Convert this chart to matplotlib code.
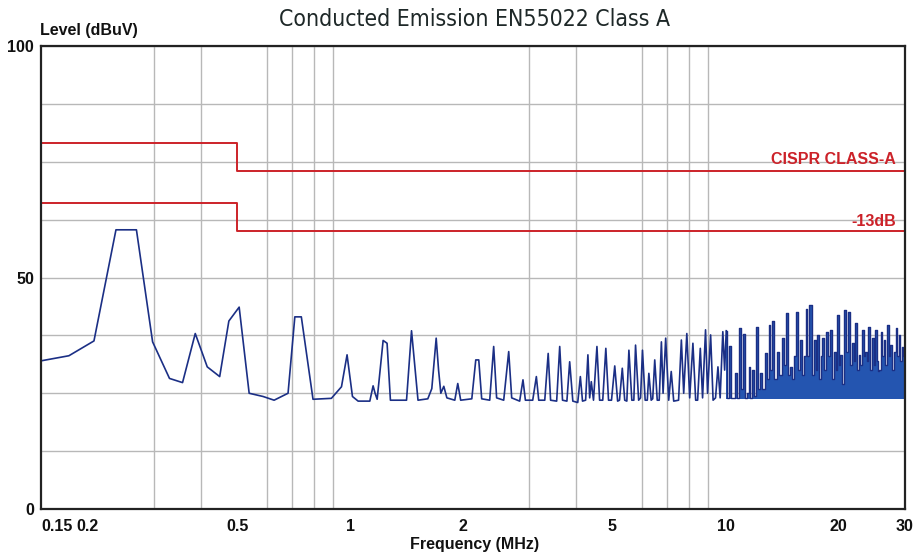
import numpy as np
import matplotlib
matplotlib.use('Agg')
import matplotlib.pyplot as plt
from matplotlib.ticker import FixedLocator, NullFormatter

# measured trace, 0.15 - 1.5 MHz
freq_low = [0.15, 0.178, 0.2076, 0.2376, 0.2694, 0.2975, 0.330, 0.3575, 0.3865, 0.416,
            0.449, 0.475, 0.506, 0.538, 0.586, 0.627, 0.683, 0.712, 0.741, 0.796,
            0.891, 0.948, 0.981, 1.014, 1.05, 1.128, 1.151, 1.165, 1.18, 1.224,
            1.254, 1.28, 1.413, 1.457, 1.516]
level_low = [32.0, 33.1, 36.3, 60.3, 60.3, 36.1, 28.2, 27.3, 37.9, 30.7,
             28.6, 40.6, 43.6, 25.0, 24.3, 23.5, 25.0, 41.5, 41.5, 23.7,
             23.9, 26.4, 33.3, 24.3, 23.3, 23.3, 26.6, 25.0, 23.7, 36.4,
             35.8, 23.5, 23.5, 38.5, 23.5]

# 1.6 - 10 MHz
freq_mid = [1.61, 1.65, 1.695, 1.72, 1.744, 1.776, 1.81, 1.90, 1.935, 1.97,
            2.109, 2.161, 2.201, 2.241, 2.354, 2.412, 2.456, 2.565, 2.645, 2.694,
            2.829, 2.887, 2.93, 3.065, 3.134, 3.18, 3.30, 3.37, 3.42, 3.55,
            3.617, 3.68, 3.78, 3.845, 3.92, 4.04, 4.105, 4.16, 4.24, 4.30,
            4.347, 4.39, 4.45, 4.545, 4.62, 4.71, 4.80, 4.88, 4.97, 5.07,
            5.16, 5.22, 5.31, 5.39, 5.46, 5.53, 5.63, 5.70, 5.76, 5.87,
            5.94, 6.01, 6.11, 6.19, 6.25, 6.34, 6.40, 6.48, 6.58, 6.66,
            6.75, 6.82, 6.93, 7.06, 7.17, 7.28, 7.50, 7.63, 7.74, 7.89,
            8.03, 8.19, 8.33, 8.43, 8.57, 8.69, 8.85, 8.96, 9.13, 9.27,
            9.41, 9.55, 9.68, 9.84, 9.95]
level_mid = [23.8, 26.0, 36.9, 30.0, 25.0, 26.5, 24.0, 23.5, 27.1, 23.5,
             23.8, 32.2, 32.2, 23.8, 23.5, 35.1, 24.0, 23.5, 34.0, 24.0,
             23.3, 27.9, 23.5, 23.5, 28.6, 23.5, 23.5, 33.6, 23.5, 23.3,
             35.1, 23.5, 23.3, 31.8, 23.3, 23.0, 28.6, 23.3, 23.5, 33.3,
             24.0, 27.5, 23.5, 35.1, 23.5, 23.5, 34.7, 23.5, 23.5, 30.9,
             23.3, 23.5, 30.4, 23.5, 23.3, 34.3, 23.5, 23.5, 35.4, 23.5,
             24.0, 34.3, 23.5, 23.5, 29.3, 23.5, 23.8, 32.2, 23.5, 23.5,
             36.1, 25.0, 36.9, 23.5, 29.7, 23.3, 23.5, 36.5, 25.0, 37.9,
             24.0, 35.8, 23.5, 23.5, 34.7, 24.0, 38.7, 25.0, 37.6, 23.5,
             24.0, 30.7, 24.0, 38.3, 30.0]

# 10 - 30 MHz
freq_high = [10.05, 10.16, 10.26, 10.38, 10.55, 10.68, 10.81, 10.95, 11.07, 11.20,
             11.35, 11.46, 11.59, 11.73, 11.88, 11.99, 12.13, 12.29, 12.45, 12.59,
             12.86, 12.98, 13.11, 13.25, 13.38, 13.56, 13.80, 13.99, 14.22, 14.40,
             14.58, 14.78, 14.98, 15.14, 15.28, 15.50, 15.72, 15.94, 16.12, 16.25,
             16.44, 16.63, 16.85, 17.06, 17.30, 17.48, 17.65, 17.85, 18.02, 18.20,
             18.42, 18.65, 18.84, 19.04, 19.34, 19.60, 19.78, 19.94, 20.14, 20.35,
             20.55, 20.90, 21.13, 21.41, 21.65, 21.85, 22.07, 22.30, 22.53, 22.77,
             23.00, 23.23, 23.47, 23.72, 23.91, 24.10, 24.43, 24.70, 24.96, 25.22,
             25.42, 25.63, 25.82, 26.01, 26.27, 26.54, 26.81, 27.09, 27.37, 27.66,
             27.97, 28.31, 28.63, 28.84, 29.09, 29.36, 29.64, 29.82]
level_high = [38.5, 24.0, 35.1, 24.0, 24.0, 29.3, 24.0, 39.0, 26.0, 37.9,
              24.0, 25.0, 30.7, 24.0, 30.0, 24.5, 39.4, 26.0, 29.3, 26.0,
              33.6, 28.0, 39.7, 30.0, 40.5, 28.0, 34.0, 29.0, 36.9, 31.0,
              42.3, 29.0, 30.7, 28.0, 33.0, 42.6, 30.0, 36.5, 29.0, 33.0,
              43.3, 33.0, 44.1, 29.0, 36.5, 30.0, 37.6, 28.0, 33.0, 36.9,
              30.0, 38.3, 33.0, 38.7, 28.0, 34.0, 30.0, 41.9, 31.0, 33.3,
              27.0, 43.0, 34.0, 42.6, 31.0, 35.8, 32.0, 40.1, 30.0, 33.3,
              31.0, 38.7, 33.0, 34.0, 32.0, 39.4, 30.0, 36.9, 31.0, 38.7,
              32.0, 29.7, 30.0, 38.3, 33.0, 36.5, 31.0, 39.7, 33.0, 35.4,
              30.0, 34.0, 39.0, 33.0, 37.6, 32.0, 35.0, 33.0]
noise_floor = 23.8

# limit lines
limit_freq = [0.15, 0.5, 30]
limit_class_a = [79, 73, 73]
limit_minus13 = [66, 60, 60]

xtick_vals = [0.15, 0.2, 0.5, 1, 2, 5, 10, 20, 30]
xtick_labels = ['0.15', '0.2', '0.5', '1', '2', '5', '10', '20', '30']
xgrid_vals = [0.2, 0.3, 0.4, 0.5, 0.6, 0.7, 0.8, 0.9, 1, 2, 3, 4, 5, 6, 7, 8, 9, 10, 20, 30]
ytick_vals = [0, 50, 100]
ygrid_vals = [12.5, 25, 37.5, 50, 62.5, 75, 87.5]

W, H = 917, 559
fig = plt.figure(figsize=(W / 100, H / 100), dpi=100)
ax = fig.add_axes([41 / W, 50 / H, (904.5 - 41) / W, (509 - 46) / H])

ax.set_xscale('log')
ax.set_xlim(0.15, 30)
ax.set_ylim(0, 100)
ax.set_axisbelow(True)

ax.xaxis.set_major_locator(FixedLocator(xtick_vals))
ax.set_xticklabels(xtick_labels)
ax.xaxis.set_minor_locator(FixedLocator(xgrid_vals))
ax.xaxis.set_minor_formatter(NullFormatter())
ax.yaxis.set_major_locator(FixedLocator(ytick_vals))
ax.yaxis.set_minor_locator(FixedLocator(ygrid_vals))

ax.grid(which='minor', color='#b8b8b8', linewidth=1.0)
ax.grid(which='major', axis='y', color='#b8b8b8', linewidth=1.0)
ax.tick_params(which='both', length=0)
ax.tick_params(axis='x', pad=7)
ax.tick_params(axis='y', pad=5)
for lab in ax.get_xticklabels() + ax.get_yticklabels():
    lab.set_fontfamily('Liberation Sans')
    lab.set_fontweight('bold')
    lab.set_fontsize(11.5)
    lab.set_color('#111111')
ax.get_xticklabels()[0].set_ha('left')

for sp in ax.spines.values():
    sp.set_color('#222222')
    sp.set_linewidth(1.6)

red = '#cc2229'
ax.plot(limit_freq, limit_class_a, drawstyle='steps-post', color=red, linewidth=1.4)
ax.plot(limit_freq, limit_minus13, drawstyle='steps-post', color=red, linewidth=1.4)
ax.text(28.5, 75.4, 'CISPR CLASS-A', ha='right', va='center', color=red,
        fontfamily='Liberation Sans', fontweight='bold', fontsize=11.5)
ax.text(28.5, 62.0, '-13dB', ha='right', va='center', color=red,
        fontfamily='Liberation Sans', fontweight='bold', fontsize=11.5)

# sweep below 10 MHz drawn as a plain trace
line_col = '#1b2f85'
ax.plot(freq_low + freq_mid + freq_high[:1], level_low + level_mid + level_high[:1],
        color=line_col, linewidth=1.2)

# dense part above 10 MHz: narrow pulses, filled
ax.fill_between(freq_high, noise_floor, level_high, step='mid', color='#2455b0', linewidth=0)
ax.plot(freq_high, level_high, drawstyle='steps-mid', color=line_col, linewidth=1.0)

fig.text(475 / W, 1 - 19 / H, 'Conducted Emission EN55022 Class A', ha='center', va='center',
         fontfamily='DejaVu Sans', fontstretch='condensed', fontsize=16.5, color='#1e2828')
fig.text(40 / W, 1 - 31 / H, 'Level (dBuV)', ha='left', va='center',
         fontfamily='Liberation Sans', fontweight='bold', fontsize=11.5, color='#111111')
fig.text(475 / W, 1 - 545 / H, 'Frequency (MHz)', ha='center', va='center',
         fontfamily='Liberation Sans', fontweight='bold', fontsize=11.5, color='#111111')

fig.savefig('out.png', dpi=100, facecolor='white')
